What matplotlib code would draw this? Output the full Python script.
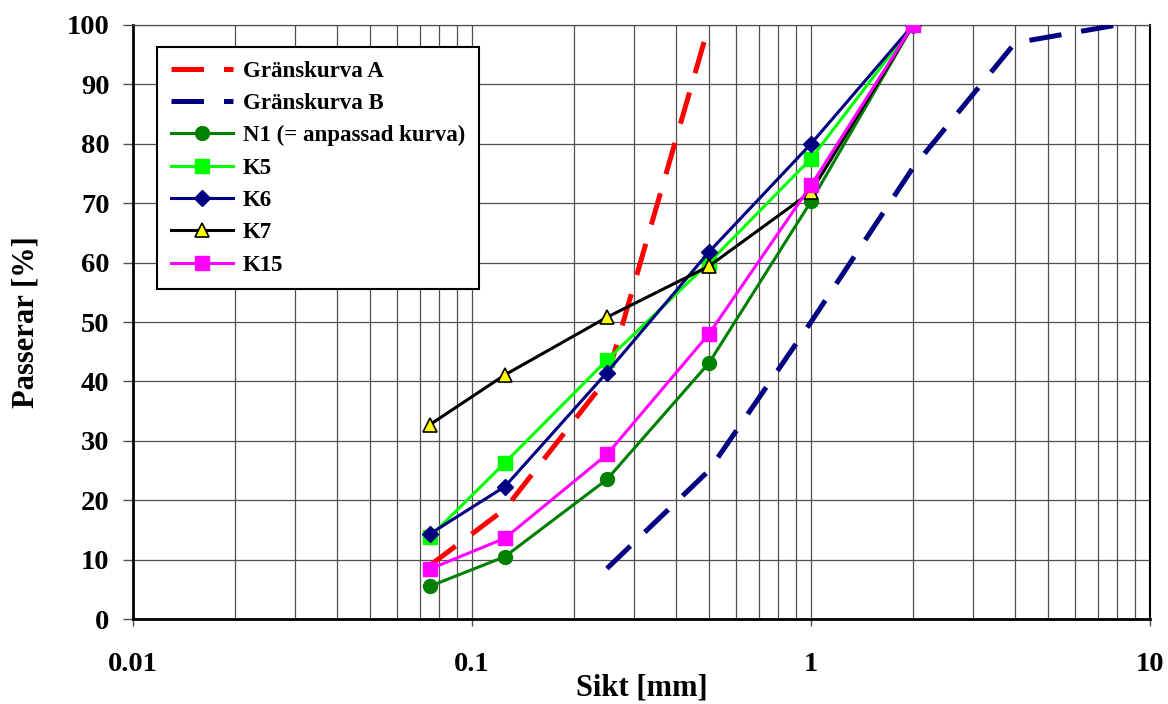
import numpy as np
import matplotlib
matplotlib.use('Agg')
import matplotlib.pyplot as plt
from matplotlib.ticker import FixedLocator, NullFormatter, FixedFormatter

plt.rcParams['font.family'] = ['Liberation Serif', 'DejaVu Serif']
plt.rcParams['font.weight'] = 'bold'

# Sieve sizes [mm] and passing percentages
sieve = [0.075, 0.125, 0.25, 0.5, 1, 2]
n1 = [5.5, 10.5, 23.5, 43.1, 70.3, 100]
k5 = [13.8, 26.3, 43.6, 60.0, 77.5, 100]
k6 = [14.3, 22.3, 41.5, 61.8, 80.0, 100]
k7 = [32.7, 41.1, 50.8, 59.4, 71.9, 100]
k15 = [8.4, 13.6, 27.7, 48.0, 73.0, 100]

# limit curves
limA_x = [0.075, 0.125, 0.25, 0.5]
limA_y = [9.0, 18.5, 40.5, 100]
limB_x = [0.25, 0.5, 1, 2, 4, 8]
limB_y = [8.5, 25, 50, 76, 97, 100]

xticks = [0.01, 0.1, 1, 10]
xticklabels = ['0.01', '0.1', '1', '10']
yticks = list(range(0, 101, 10))

fig = plt.figure(figsize=(11.68, 7.04), dpi=100)
ax = fig.add_axes([0.1139, 0.1207, 0.8707, 0.8438])

ax.set_xscale('log')
ax.set_xlim(0.01, 10)
ax.set_ylim(0, 100)

gridc = '#505050'
ax.xaxis.set_major_locator(FixedLocator(xticks))
ax.xaxis.set_major_formatter(FixedFormatter(xticklabels))
minors = [m * d for d in (0.01, 0.1, 1) for m in range(2, 10)]
ax.xaxis.set_minor_locator(FixedLocator(minors))
ax.xaxis.set_minor_formatter(NullFormatter())
ax.set_yticks(yticks)
ax.grid(which='both', axis='x', color=gridc, linewidth=0.9)
ax.grid(which='major', axis='y', color=gridc, linewidth=0.9)
ax.set_axisbelow(True)

ax.tick_params(axis='x', which='major', direction='out', length=5, width=1, pad=19,
               labelsize=20.5, color=gridc)
ax.tick_params(axis='x', which='minor', length=0)
ax.tick_params(axis='y', which='major', direction='out', length=7, width=1, pad=10,
               labelsize=20.5, color=gridc)

for s in ['left', 'bottom']:
    ax.spines[s].set_linewidth(2)
    ax.spines[s].set_color('black')
ax.spines['right'].set_linewidth(1.5)
ax.spines['right'].set_color('black')
ax.spines['top'].set_linewidth(0.9)
ax.spines['top'].set_color(gridc)

ax.plot(limA_x, limA_y, color='#FF0000', linewidth=3.6, dashes=(6.5, 4),
        label='Gränskurva A', zorder=3)
ax.plot(limB_x, limB_y, color='#000080', linewidth=3.6, dashes=(6.5, 4),
        label='Gränskurva B', zorder=3)
ax.plot(sieve, n1, color='#008000', linewidth=2.2, marker='o', markersize=10,
        label='N1 (= anpassad kurva)', zorder=4)
ax.plot(sieve, k5, color='#00FF00', linewidth=2.2, marker='s', markersize=9.5,
        label='K5', zorder=4)
ax.plot(sieve, k6, color='#000080', linewidth=2.2, marker='D', markersize=8,
        label='K6', zorder=4)
ax.plot(sieve, k7, color='black', linewidth=2.2, marker='^', markersize=10,
        markerfacecolor='#FFFF00', markeredgecolor='black', markeredgewidth=1.2,
        label='K7', zorder=4)
ax.plot(sieve, k15, color='#FF00FF', linewidth=2.2, marker='s', markersize=10.5,
        label='K15', zorder=4)

leg = ax.legend(loc='upper left', bbox_to_anchor=(0.0236, 0.963), borderaxespad=0,
                fontsize=16.5, handlelength=2.7, labelspacing=0.49, fancybox=False,
                framealpha=1, edgecolor='black', borderpad=0.6, handletextpad=0.45)
leg.get_frame().set_linewidth(1.5)
leg.set_zorder(10)

ax.set_xlabel('Sikt [mm]', fontsize=22, fontweight='bold', labelpad=-3)
ax.set_ylabel('Passerar [%]', fontsize=22, fontweight='bold', labelpad=19)

fig.savefig('out.png', dpi=100)
